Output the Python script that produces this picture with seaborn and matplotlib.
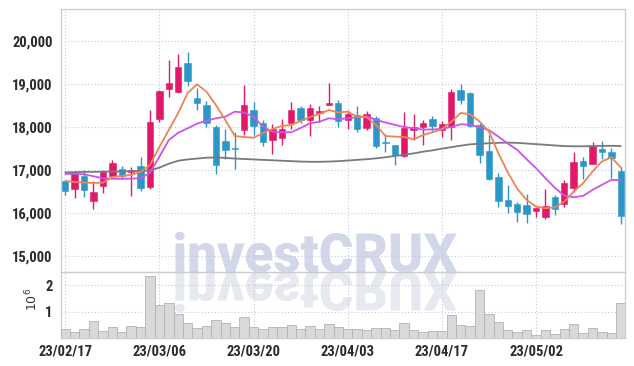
import numpy as np
import matplotlib
matplotlib.use('Agg')
import matplotlib.pyplot as plt
import seaborn as sns
from matplotlib.textpath import TextPath
from matplotlib.patches import PathPatch
from matplotlib.transforms import Affine2D
from matplotlib.font_manager import FontProperties

# --- data (daily candles, 23/02/17 .. 23/05/16) ---
opens = [16745, 16574, 16869, 16295, 16640, 16876, 17032, 16954, 17101, 16621,
         18178, 18884, 18806, 19488, 18682, 18520, 18008, 17682, 17520, 17938,
         18403, 18101, 17690, 17737, 18086, 18450, 18155, 18326, 18504, 18551,
         18155, 18279, 17977, 18217, 17659, 17590, 17318, 17923, 17992, 18186,
         17938, 18000, 18861, 18791, 18039, 17442, 16846, 16311, 16218, 16195,
         16047, 15923, 16373, 16218, 16598, 17217, 17155, 17496, 17427, 16985]
closes = [16528, 16954, 16551, 16497, 16960, 17171, 16869, 17016, 16597, 18124,
          18845, 19016, 19395, 19062, 18551, 18093, 17132, 17473, 17497, 18520,
          18016, 17644, 17962, 17954, 18395, 18155, 18450, 18365, 18551, 18140,
          18310, 17962, 18310, 17566, 17620, 17342, 17977, 18000, 18101, 18016,
          18070, 18814, 18620, 18031, 17342, 16807, 16295, 16179, 16032, 15993,
          16132, 16171, 16093, 16706, 17194, 17086, 17558, 17411, 17287, 15946]
highs = [16776, 16985, 17016, 16752, 17000, 17233, 17094, 17078, 17303, 18400,
         18870, 19566, 19698, 19744, 18907, 18597, 18054, 17946, 17876, 18977,
         18582, 18171, 18070, 18194, 18582, 18496, 18535, 18496, 19023, 18636,
         18403, 18481, 18380, 18248, 17830, 17590, 18349, 18302, 18155, 18248,
         18147, 18876, 19000, 18822, 18093, 17822, 16946, 16652, 16272, 16442,
         16140, 16559, 16435, 16776, 17419, 17295, 17659, 17675, 17520, 17063]
lows = [16427, 16350, 16388, 16094, 16480, 16814, 16791, 16404, 16527, 16570,
        18110, 18700, 18785, 18946, 18396, 18000, 16915, 17270, 17020, 17807,
        17822, 17551, 17380, 17590, 17960, 18093, 17791, 18124, 18504, 18000,
        17954, 17892, 17938, 17520, 17411, 17117, 17295, 17706, 17582, 17900,
        17776, 17706, 18535, 18000, 17163, 16776, 16156, 16000, 15807, 15768,
        15908, 15861, 15970, 16156, 16505, 16791, 17140, 17256, 16822, 15745]

ma_short = [16749, 16726, 16715, 16703, 16710, 16842, 16865, 16889, 16958, 17121,
            17540, 17934, 18328, 18793, 18994, 18823, 18514, 18166, 17794, 17771,
            17755, 17864, 17957, 18026, 18050, 18142, 18235, 18305, 18398, 18340,
            18360, 18242, 18230, 18050, 17794, 17780, 17770, 17717, 17817, 17880,
            17950, 18126, 18330, 18300, 18132, 17899, 17396, 16950, 16570, 16310,
            16155, 16117, 16135, 16270, 16505, 16698, 16970, 17202, 17303, 17062]
ma_mid = [16912, 16912, 16905, 16860, 16812, 16800, 16800, 16805, 16812, 16942,
          17313, 17701, 17870, 17973, 18080, 18150, 18205, 18242, 18358, 18340,
          18242, 18010, 17894, 17880, 17880, 17980, 18089, 18126, 18205, 18182,
          18205, 18233, 18250, 18170, 18109, 18054, 18000, 17977, 17945, 17945,
          17960, 18005, 18066, 18054, 18000, 17930, 17780, 17620, 17473, 17256,
          17047, 16814, 16590, 16410, 16372, 16404, 16543, 16660, 16776, 16768]
ma_long = [16950, 16955, 16960, 16962, 16965, 16968, 16972, 16978, 16985, 16995,
           17060, 17150, 17220, 17250, 17270, 17290, 17295, 17285, 17270, 17260,
           17250, 17240, 17230, 17220, 17210, 17200, 17195, 17195, 17200, 17210,
           17225, 17240, 17255, 17275, 17300, 17330, 17360, 17390, 17430, 17460,
           17500, 17535, 17570, 17600, 17615, 17625, 17635, 17640, 17635, 17620,
           17605, 17590, 17575, 17560, 17555, 17555, 17560, 17565, 17566, 17560]

volume_m = [0.35, 0.23, 0.34, 0.66, 0.27, 0.42, 0.23, 0.47, 0.43, 2.34,
            1.25, 1.32, 0.90, 0.58, 0.38, 0.47, 0.69, 0.58, 0.43, 0.81,
            0.42, 0.34, 0.42, 0.42, 0.49, 0.34, 0.45, 0.34, 0.53, 0.43,
            0.34, 0.34, 0.30, 0.38, 0.38, 0.30, 0.57, 0.30, 0.22, 0.26,
            0.26, 0.88, 0.49, 0.45, 1.82, 0.92, 0.61, 0.30, 0.23, 0.30,
            0.13, 0.30, 0.16, 0.34, 0.53, 0.18, 0.38, 0.23, 0.19, 1.31]

tick_pos = [0, 10, 20, 30, 40, 50]
tick_labels = ['23/02/17', '23/03/06', '23/03/20', '23/04/03', '23/04/17', '23/05/02']
price_ticks = [15000, 16000, 17000, 18000, 19000, 20000]

UP = '#E2186B'
DOWN = '#2C96C8'
GRID = '#C5C9DC'
SPINE = '#CCCCCC'

sns.set_style('white')
plt.rcParams['font.family'] = ['Roboto Condensed', 'DejaVu Sans']

W, H = 634, 366
fig = plt.figure(figsize=(W / 100, H / 100), dpi=100)
fig.patch.set_facecolor('white')
ax = fig.add_axes([61 / W, (H - 272) / H, 564 / W, 263 / H])
axv = fig.add_axes([61 / W, (H - 338) / H, 564 / W, 66 / H])

idx = np.arange(len(opens))
o = np.array(opens)
c = np.array(closes)
up = c >= o
colors = np.where(up, UP, DOWN)

# candles
ax.vlines(idx, lows, highs, colors=colors, lw=1.0, zorder=3)
ax.bar(idx, np.abs(c - o), bottom=np.minimum(o, c), width=0.68,
       color=colors, edgecolor=colors, linewidth=0.4, zorder=4)

# moving averages
sns.lineplot(x=idx, y=ma_long, ax=ax, color='#7A7A7A', lw=1.3, zorder=5)
sns.lineplot(x=idx, y=ma_mid, ax=ax, color='#CC55E8', lw=1.3, zorder=5)
sns.lineplot(x=idx, y=ma_short, ax=ax, color='#EF8354', lw=1.3, zorder=6)

# volume
sns.barplot(x=idx, y=volume_m, ax=axv, color='#D9D9D9', edgecolor='#B3B3B3',
            linewidth=0.6, width=1.0, saturation=1, zorder=3)

for a in (ax, axv):
    a.set_facecolor('none')
    a.set_xlim(-0.45, len(opens) - 0.55)
    a.set_xlabel('')
    a.set_ylabel('')
    for s in a.spines.values():
        s.set_color(SPINE)
        s.set_linewidth(0.9)
    a.grid(True, color=GRID, linestyle=(0, (1, 2)), lw=0.8)
    a.set_axisbelow(True)
    a.tick_params(length=0, labelsize=10.5, colors='#2B2B2B')

ax.set_ylim(14636, 20743)
ax.set_yticks(price_ticks)
ax.set_yticklabels([f'{v:,}' for v in price_ticks], fontweight='bold')
ax.set_xticks(tick_pos)
ax.set_xticklabels([])
ax.tick_params(axis='y', pad=6)

axv.set_ylim(0, 2.5)
axv.set_yticks([1, 2])
axv.set_yticklabels(['1', '2'], fontweight='bold')
axv.set_xticks(tick_pos)
axv.set_xticklabels(tick_labels, fontweight='bold')
axv.tick_params(axis='y', pad=6)
axv.tick_params(axis='x', pad=5)
fig.text(32.5 / W, 1 - 299 / H, r'$10^6$', rotation=90, ha='center', va='center',
         fontsize=9, color='#333333', family='DejaVu Sans')

# watermark with reflection
fp = FontProperties(family='Roboto', weight=900)
tp = TextPath((0, 0), 'investCRUX', size=100, prop=fp)
bb = tp.get_extents()
sx = 282 / bb.width
sy = 38.5 / 71.1
base = H - 272
tr = Affine2D().translate(-bb.x0, 0).scale(sx, sy).translate(175, base)
tr_ref = Affine2D().translate(-bb.x0, 0).scale(sx, -sy).translate(175, base)
fig.add_artist(PathPatch(tp, transform=tr, facecolor='#D2D8EA', edgecolor='none', zorder=-1))
fig.add_artist(PathPatch(tp, transform=tr_ref, facecolor='#E7E9F1', edgecolor='none', zorder=-1))

fig.savefig('out.png', dpi=100, facecolor='white')
